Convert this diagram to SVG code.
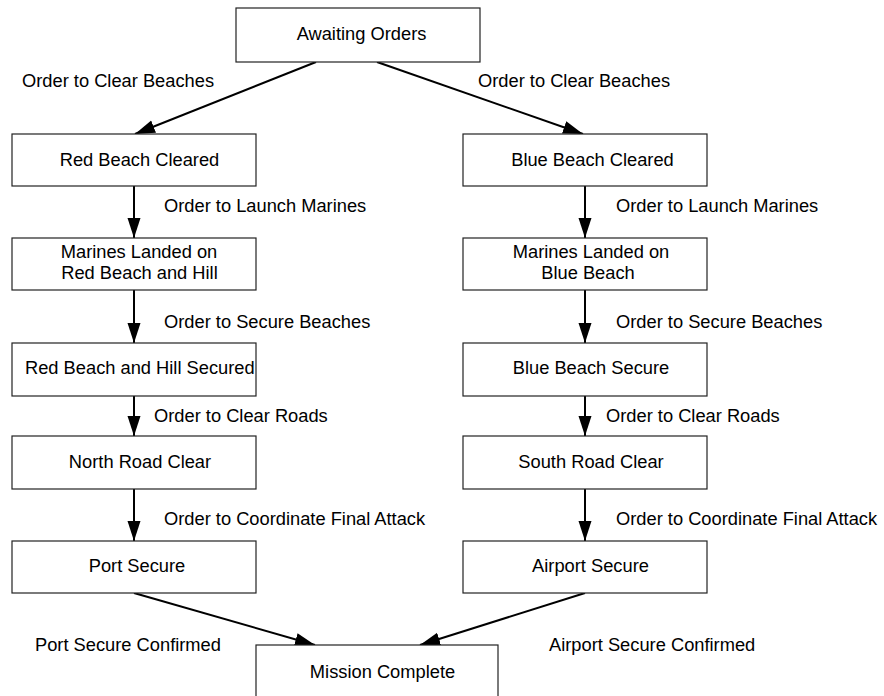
<svg xmlns="http://www.w3.org/2000/svg" width="884" height="696" viewBox="0 0 884 696">
<style>
.box{fill:#fff;stroke:#222;stroke-width:1.2}
.t{font-family:"Liberation Sans",Arial,sans-serif;font-size:18.3px;fill:#000}
.m{text-anchor:middle}
.edge{stroke:#000;stroke-width:2;fill:none;marker-end:url(#ah)}
</style>
<defs>
<marker id="ah" markerUnits="userSpaceOnUse" markerWidth="21" markerHeight="14" refX="20" refY="7" orient="auto">
<path d="M0,0.5 L20,7 L0,13.5 z" fill="#000"/>
</marker>
</defs>
<rect width="884" height="696" fill="#fff"/>
<g id="connectors">
<line class="edge" x1="316" y1="62" x2="135" y2="134"/>
<line class="edge" x1="377" y1="62" x2="583" y2="134"/>
<line class="edge" x1="134" y1="186" x2="134" y2="238"/>
<line class="edge" x1="585" y1="186" x2="585" y2="238"/>
<line class="edge" x1="134" y1="290" x2="134" y2="343"/>
<line class="edge" x1="585" y1="290" x2="585" y2="343"/>
<line class="edge" x1="134" y1="396" x2="134" y2="436"/>
<line class="edge" x1="585" y1="396" x2="585" y2="436"/>
<line class="edge" x1="134" y1="489" x2="134" y2="541"/>
<line class="edge" x1="585" y1="489" x2="585" y2="541"/>
<line class="edge" x1="134" y1="593" x2="315" y2="645"/>
<line class="edge" x1="585" y1="593" x2="420" y2="645"/>
<text class="t" x="22" y="87">Order to Clear Beaches</text>
<text class="t" x="478" y="87">Order to Clear Beaches</text>
<text class="t" x="164" y="212">Order to Launch Marines</text>
<text class="t" x="616" y="212">Order to Launch Marines</text>
<text class="t" x="164" y="328">Order to Secure Beaches</text>
<text class="t" x="616" y="328">Order to Secure Beaches</text>
<text class="t" x="154" y="422">Order to Clear Roads</text>
<text class="t" x="606" y="422">Order to Clear Roads</text>
<text class="t" x="164" y="525">Order to Coordinate Final Attack</text>
<text class="t" x="616" y="525">Order to Coordinate Final Attack</text>
<text class="t" x="35" y="651">Port Secure Confirmed</text>
<text class="t" x="549" y="651">Airport Secure Confirmed</text>
</g>
<g id="awaiting-orders">
<rect class="box" x="236" y="8" width="244" height="54"/>
<text class="t m" x="361.5" y="40">Awaiting Orders</text>
</g>
<g id="red-beach-cleared">
<rect class="box" x="12" y="134" width="244" height="52"/>
<text class="t m" x="139.5" y="166">Red Beach Cleared</text>
</g>
<g id="blue-beach-cleared">
<rect class="box" x="463" y="134" width="244" height="52"/>
<text class="t m" x="592.5" y="166">Blue Beach Cleared</text>
</g>
<g id="marines-red">
<rect class="box" x="12" y="238" width="244" height="52"/>
<text class="t m" x="139" y="258">Marines Landed on</text>
<text class="t m" x="139.5" y="279">Red Beach and Hill</text>
</g>
<g id="marines-blue">
<rect class="box" x="463" y="238" width="244" height="52"/>
<text class="t m" x="591" y="258">Marines Landed on</text>
<text class="t m" x="588" y="279">Blue Beach</text>
</g>
<g id="red-secured">
<rect class="box" x="12" y="343" width="244" height="53"/>
<text class="t" x="25" y="374">Red Beach and Hill Secured</text>
</g>
<g id="blue-secure">
<rect class="box" x="463" y="343" width="244" height="53"/>
<text class="t m" x="591" y="374">Blue Beach Secure</text>
</g>
<g id="north-road">
<rect class="box" x="12" y="436" width="244" height="53"/>
<text class="t m" x="140" y="468">North Road Clear</text>
</g>
<g id="south-road">
<rect class="box" x="463" y="436" width="244" height="53"/>
<text class="t m" x="591" y="468">South Road Clear</text>
</g>
<g id="port-secure">
<rect class="box" x="12" y="541" width="244" height="52"/>
<text class="t m" x="137" y="572">Port Secure</text>
</g>
<g id="airport-secure">
<rect class="box" x="463" y="541" width="244" height="52"/>
<text class="t m" x="590.5" y="572">Airport Secure</text>
</g>
<g id="mission-complete">
<rect class="box" x="256" y="645" width="242" height="60"/>
<text class="t m" x="382.5" y="678">Mission Complete</text>
</g>
</svg>
